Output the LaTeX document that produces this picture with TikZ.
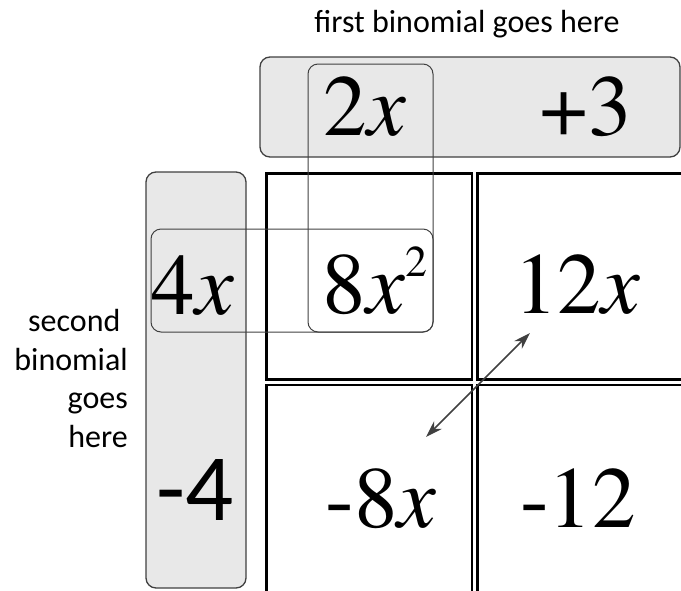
\documentclass[tikz,border=0pt]{standalone}
\usepackage{fontspec}
\newfontfamily\termfont{TeX Gyre Termes}
\newfontfamily\labelfont{Carlito}
\definecolor{stripfill}{RGB}{232,232,232}
\definecolor{edge}{RGB}{64,64,64}
\usetikzlibrary{arrows.meta}

\begin{document}
\begin{tikzpicture}[x=1pt,y=-1pt,
  term/.style={anchor=base,inner sep=0pt,font=\termfont\fontsize{87}{87}\selectfont},
  tag/.style={inner sep=0pt,font=\labelfont\fontsize{32}{38.5}\selectfont}]
  \useasboundingbox (0,0) rectangle (681,590);
  % shaded strips for the two binomials
  \draw[edge,fill=stripfill,line width=1.3pt,rounded corners=10pt] (260,57) rectangle (680,157);
  \draw[edge,fill=stripfill,line width=1.3pt,rounded corners=10pt] (146,172) rectangle (246,588);
  % product grid, running off the right and bottom edges
  \draw[line width=2.7pt] (266.5,173.5) rectangle (472,379.5);
  \draw[line width=2.7pt] (690,173.5) -- (477.5,173.5) -- (477.5,379.5) -- (690,379.5);
  \draw[line width=2.7pt] (266.5,600) -- (266.5,385) -- (472,385) -- (472,600);
  \draw[line width=2.7pt] (690,385) -- (477.5,385) -- (477.5,600);
  % outlines picking out 2x and 4x
  \draw[edge,line width=1pt,rounded corners=10pt] (308,64) rectangle (433,332);
  \draw[edge,line width=1pt,rounded corners=10pt] (151,229) rectangle (433,332);
  % labels
  \node[tag,anchor=base] (firstlabel) at (467,32) {first binomial goes here};
  \node[tag,anchor=base east,align=right] (secondlabel) at (128,447)
    {second\hspace*{0.23em}\\binomial\\goes\\here};
  % terms and products
  \node[term] (twox) at (365,135) {2\textit{x}};
  \node[term] (plusthree) at (586,135) {+3};
  \node[term] (fourx) at (193,314) {4\textit{x}};
  \node[term] (eightxsq) at (375,313) {8\textit{x}\raisebox{0.425em}{\fontsize{44}{44}\selectfont 2}};
  \node[term] (twelvex) at (577,313) {12\textit{x}};
  \node[term,font=\labelfont\fontsize{95}{95}\selectfont] (minusfour) at (195,520) {-4};
  \node[term] (minuseightx) at (381,527) {-8\textit{x}};
  \node[term] (minustwelve) at (578,527) {-12};
  % diagonal pairing arrow
  \coordinate (diaglo) at (426,437);
  \coordinate (diaghi) at (530,333);
  \draw[edge,line width=1.5pt,{Stealth[length=17pt,width=11pt]}-{Stealth[length=17pt,width=11pt]}] (diaglo) -- (diaghi);
\end{tikzpicture}
\end{document}
